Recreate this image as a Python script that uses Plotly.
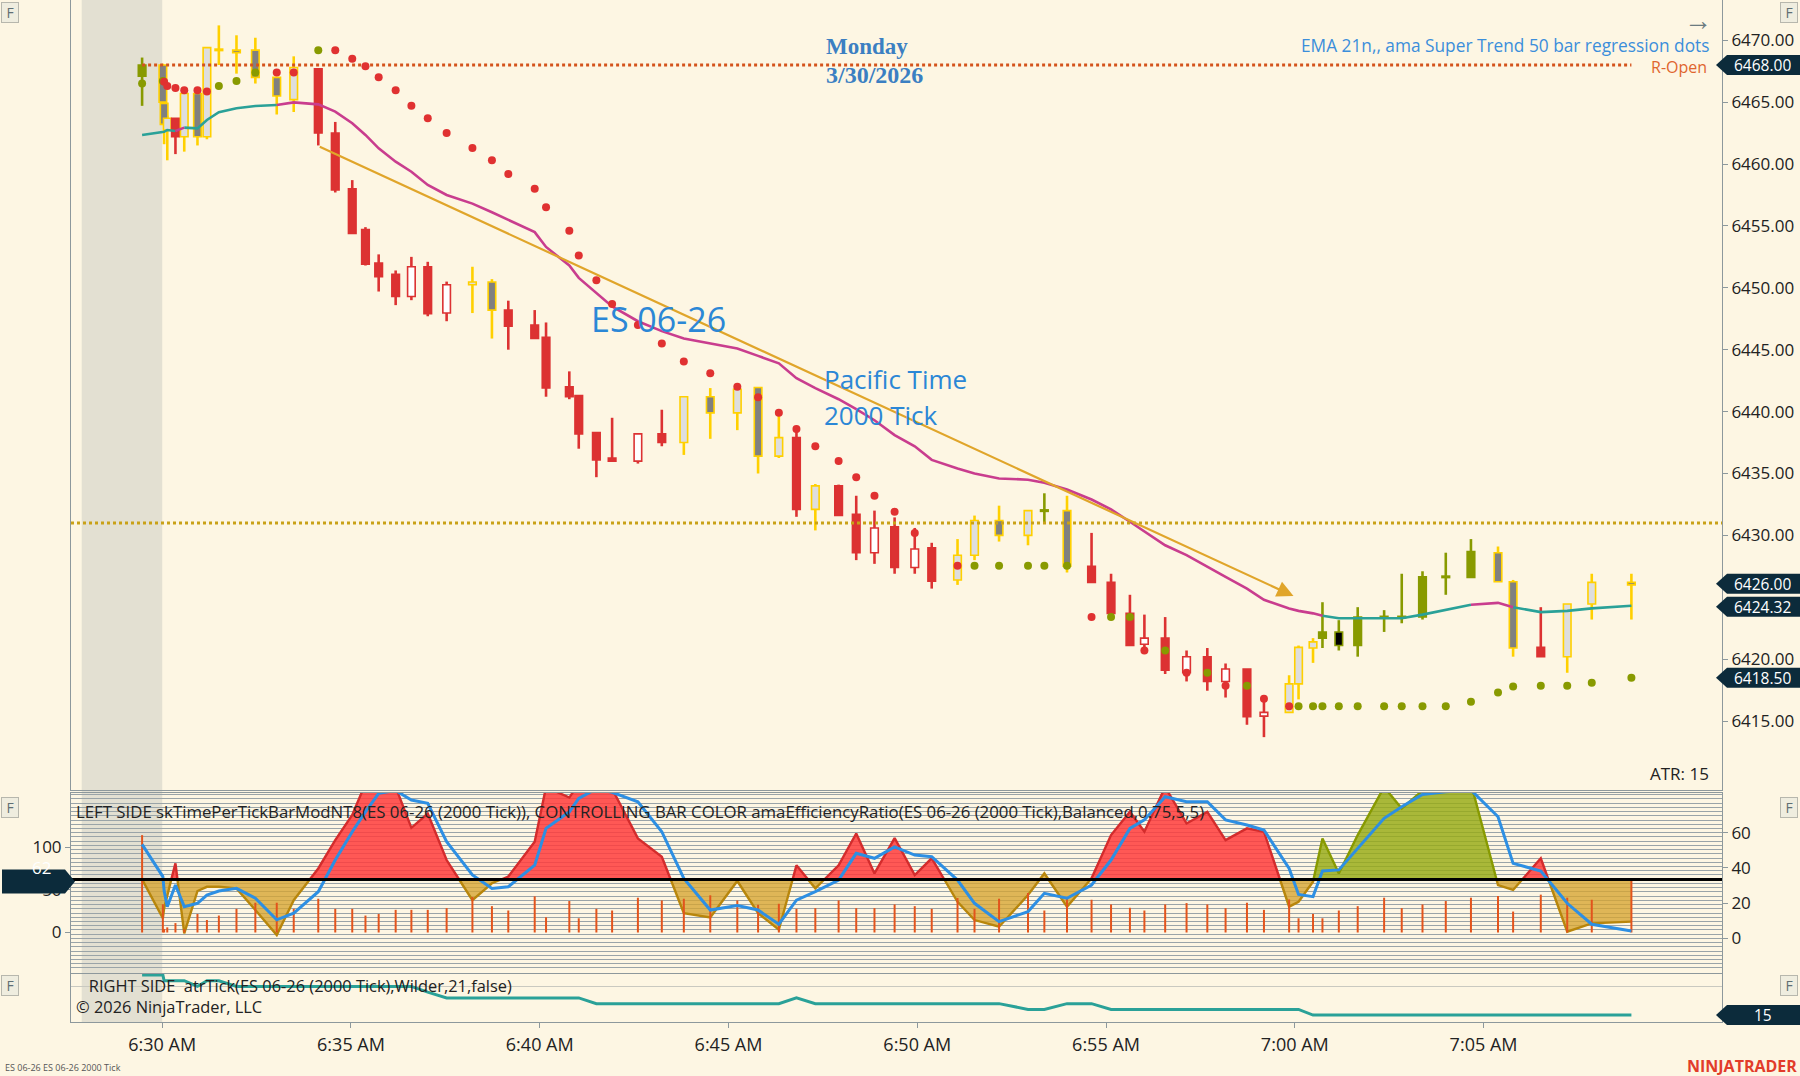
import plotly.graph_objects as go
import pandas as pd

W, H = 1800, 1076
DAY = "2026-03-30"

# ---------------- data ----------------
bar_times = ["06:29:28","06:30:01","06:30:03","06:30:08","06:30:21","06:30:35","06:30:56","06:31:11","06:31:30","06:31:58",
             "06:32:28","06:33:02","06:33:29","06:34:08","06:34:35","06:35:02","06:35:23","06:35:44","06:36:11","06:36:36",
             "06:37:02","06:37:32","06:38:13","06:38:44","06:39:10","06:39:52","06:40:10","06:40:47","06:41:02","06:41:30",
             "06:41:55","06:42:36","06:43:14","06:43:49","06:44:31","06:45:14","06:45:47","06:46:20","06:46:48","06:47:18",
             "06:47:55","06:48:23","06:48:52","06:49:24","06:49:56","06:50:23","06:51:04","06:51:31","06:52:10","06:52:56",
             "06:53:22","06:53:58","06:54:37","06:55:08","06:55:38","06:56:01","06:56:34","06:57:08","06:57:41","06:58:10",
             "06:58:44","06:59:11","06:59:51","07:00:06","07:00:29","07:00:44","07:01:10","07:01:40","07:02:22","07:02:50",
             "07:03:23","07:04:00","07:04:40","07:05:23","07:05:47","07:06:31","07:07:13","07:07:52","07:08:55"]

bar_open = [6467.1, 6468.0, 6464.9, 6462.75, 6463.7, 6462.2, 6465.7, 6462.2, 6469.2, 6469.2,
            6469.2, 6467.0, 6465.2, 6467.7, 6462.5, 6458.0, 6454.7, 6452.0, 6451.1, 6449.3,
            6451.7, 6447.96, 6450.25, 6450.47, 6448.2, 6447.0, 6446.0, 6442.0, 6441.3, 6438.3,
            6436.25, 6436.0, 6438.2, 6437.5, 6441.2, 6439.9, 6441.95, 6436.4, 6437.9, 6432.1,
            6434.0, 6431.7, 6428.6, 6430.7, 6427.4, 6429.0, 6426.4, 6428.4, 6431.2, 6430.0,
            6432.0, 6432.0, 6427.5, 6426.2, 6423.7, 6421.2, 6421.7, 6418.9, 6420.2, 6418.2,
            6419.2, 6415.4, 6415.7, 6418.0, 6420.9, 6421.7, 6422.2, 6421.1, 6423.4, 6423.4,
            6423.4, 6426.65, 6426.6, 6428.6, 6426.25, 6420.95, 6420.2, 6424.45, 6426.2]
bar_high = [6468.6, 6468.1, 6465.4, 6463.9, 6463.7, 6465.7, 6465.7, 6469.4, 6471.2, 6470.4,
            6470.2, 6467.0, 6468.7, 6467.7, 6463.4, 6458.7, 6454.9, 6452.7, 6451.4, 6452.5,
            6452.1, 6450.5, 6451.7, 6450.7, 6448.96, 6448.2, 6447.2, 6443.25, 6441.3, 6438.3,
            6439.5, 6438.2, 6440.15, 6441.2, 6441.9, 6441.8, 6441.95, 6439.9, 6438.4, 6434.15,
            6434.1, 6433.2, 6432.0, 6431.45, 6430.6, 6429.4, 6429.7, 6431.6, 6432.4, 6432.0,
            6433.4, 6433.2, 6430.2, 6426.9, 6425.2, 6423.6, 6423.4, 6420.7, 6420.9, 6419.65,
            6419.2, 6416.8, 6418.7, 6421.1, 6421.7, 6424.6, 6423.15, 6424.2, 6423.96, 6426.9,
            6427.1, 6428.6, 6429.7, 6429.1, 6426.4, 6424.2, 6424.45, 6426.9, 6426.9]
bar_low = [6464.7, 6464.9, 6461.6, 6460.3, 6460.8, 6461.0, 6461.5, 6462.0, 6468.0, 6467.3,
           6466.5, 6464.0, 6464.2, 6461.5, 6457.7, 6454.4, 6451.8, 6449.7, 6448.6, 6449.0,
           6447.7, 6447.3, 6447.96, 6445.9, 6445.0, 6445.9, 6441.2, 6441.0, 6437.0, 6434.7,
           6436.0, 6435.8, 6437.2, 6436.5, 6437.8, 6438.5, 6435.0, 6436.25, 6431.5, 6430.4,
           6431.6, 6428.0, 6427.7, 6426.9, 6426.9, 6425.7, 6426.0, 6428.0, 6429.5, 6429.2,
           6431.0, 6427.0, 6426.2, 6423.7, 6421.1, 6420.8, 6418.8, 6418.2, 6417.45, 6416.9,
           6414.7, 6413.7, 6415.7, 6416.75, 6419.7, 6420.9, 6420.7, 6420.2, 6422.2, 6422.9,
           6423.2, 6425.2, 6426.6, 6426.25, 6420.2, 6420.2, 6418.9, 6423.2, 6423.2]
bar_close = [6468.0, 6465.0, 6463.2, 6463.7, 6462.2, 6465.7, 6462.2, 6469.4, 6469.25, 6469.0,
             6467.0, 6465.5, 6467.8, 6462.5, 6457.9, 6454.4, 6451.9, 6450.9, 6449.3, 6451.7,
             6447.9, 6450.25, 6450.47, 6448.2, 6446.9, 6445.9, 6441.9, 6441.2, 6438.2, 6436.1,
             6436.0, 6438.2, 6437.5, 6441.2, 6439.9, 6441.8, 6436.4, 6437.9, 6432.1, 6434.0,
             6431.6, 6428.6, 6430.6, 6427.4, 6428.9, 6426.3, 6428.4, 6431.2, 6430.0, 6432.0,
             6432.0, 6427.5, 6426.2, 6423.7, 6421.1, 6421.7, 6419.1, 6420.2, 6418.2, 6419.2,
             6415.35, 6415.7, 6418.0, 6420.95, 6421.4, 6422.2, 6421.1, 6423.4, 6423.4, 6423.4,
             6426.65, 6426.65, 6428.7, 6426.25, 6420.9, 6420.2, 6424.45, 6426.2, 6426.0]
# bar colour state: r = red, y = gold/neutral, g = olive/green
bar_state = list("gyyyryyyyyyyy" "rrrrrrrrr" "yy" "rrrrrrrrr" "yyyyy" "r" "y" "rrrrrr"
                 "yyyy" "g" "y" "rrrrrrrrrr" "yyy" "gggggggg" "yy" "r" "yyy")

# super trend dots
st_dots = [6466.5, 6466.7, 6466.65, 6466.3, 6466.15, 6465.95, 6465.95, 6465.85, 6466.3, 6466.7,
           6467.4, 6467.4, 6467.4, 6469.2, 6469.2, 6468.5, 6467.9, 6467.0, 6465.95, 6464.7,
           6463.7, 6462.5, 6461.3, 6460.3, 6459.2, 6458.0, 6456.5, 6454.6, 6452.6, 6450.6,
           6448.7, 6447.0, 6445.5, 6444.05, 6443.1, 6442.0, 6441.15, 6439.9, 6438.6, 6437.2,
           6436.0, 6434.7, 6433.2, 6431.9, 6430.2, None, 6427.55, 6427.55, 6427.55, 6427.55,
           6427.55, 6427.55, 6423.4, 6423.4, 6423.4, 6420.7, 6420.7, 6418.9, 6418.9, 6417.85,
           6417.85, 6416.8, 6416.2, 6416.2, 6416.2, 6416.2, 6416.2, 6416.2, 6416.2, 6416.2,
           6416.2, 6416.2, 6416.55, 6417.3, 6417.8, 6417.85, 6417.85, 6418.1, 6418.5]
st_dot_state = list("gg" "rrrrrr" "ggg" "rr" "g" + "r" * 33 + "ggggg" "r" "gg" "r" "g" "r" "g" "r" "g" "r" "r" + "g" * 16)

# EMA 21
ema21 = [6462.35, 6462.56, 6462.6, 6462.75, 6462.67, 6462.94, 6462.88, 6463.56, 6464.18, 6464.5,
         6464.69, 6464.77, 6464.98, 6464.82, 6464.23, 6463.29, 6462.35, 6461.27, 6460.19, 6459.38,
         6458.31, 6457.5, 6456.8, 6456.1, 6455.5, 6454.5, 6453.3, 6451.8, 6450.8, 6449.6,
         6448.5, 6447.3, 6446.5, 6445.9, 6445.5, 6445.1, 6444.5, 6443.9, 6442.7, 6441.9,
         6441.0, 6440.2, 6439.3, 6438.1, 6437.2, 6436.1, 6435.4, 6435.0, 6434.6, 6434.5,
         6434.25, 6433.7, 6432.9, 6432.1, 6431.1, 6430.3, 6429.2, 6428.4, 6427.5, 6426.65,
         6425.7, 6424.8, 6424.1, 6423.9, 6423.7, 6423.5, 6423.3, 6423.3, 6423.3, 6423.3,
         6423.6, 6424.0, 6424.4, 6424.55, 6424.2, 6423.8, 6423.9, 6424.1, 6424.32]
ema_state = list("tttt" "m" "tttttt" + "m" * 54 + "ttttttt" "mm" "ttttt")

# lower panel: time per tick (left scale), efficiency ratio + smoothing (right scale)
tpt_left = [113.9, 33, 4, 6, 11, 4, 21.7, 14.6, 19.8, 27.7,
            34.8, 34.8, 27.7, 39.5, 27.7, 27.7, 19.8, 21.7, 26.5, 26.5,
            26.5, 28.5, 41.5, 30.8, 25.7, 42.3, 17.8, 36.8, 16.6, 27.7,
            25.7, 40.7, 37.5, 39.5, 43.5, 37.5, 32.4, 33.6, 27.7, 28.5,
            37.5, 28.5, 28.5, 32.8, 30.8, 27.7, 40.3, 27.7, 39.5, 46.2,
            25.7, 39.5, 38.3, 32.8, 28.9, 25.7, 32.8, 34.4, 32.8, 28.5,
            34.8, 26.5, 38.7, 16.6, 21.7, 16.6, 25.7, 30.8, 40.7, 28.5,
            32.8, 36.8, 40.7, 42.7, 24.5, 44.3, 40.7, 38.3, 63.3]
er_value = [33.5, 11.4, 17.0, 24.6, 42.6, 2.8, 26.9, 29.3, 29.3, 28.4,
            16.1, 1.9, 21.7, 39.7, 55.8, 70.1, 88, 90, 86, 62.8,
            70.9, 44.5, 21.7, 31.3, 35.1, 54.9, 86, 80, 88, 88,
            85, 56.8, 46.4, 14.3, 11.9, 32.6, 14.3, 4.9, 41.5, 28.4,
            41.5, 59.6, 36.9, 57, 36.0, 45.5, 20.8, 10.4, 6.6, 24.6,
            36.9, 18.0, 34.1, 58.7, 71.9, 60.6, 86, 65.3, 71.9, 55.8,
            62.5, 60.6, 18.0, 20.8, 32.2, 56.8, 36.9, 58.7, 86, 73.8,
            84, 84, 88, 30.3, 27.5, 45.5, 3.8, 8.5, 9.5]
er_state = list("yyyyryyyyyyyy" "rrrrrrrrr" "yy" "rrrrrrrrr" "yyyyy" "r" "y" "rrrrrr"
                "yyyyyyy" "rrrrrrrrr" "yyy" "gggggggg" "yy" "r" "yyy")
er_smooth = [53.4, 35.1, 27, 18.0, 30.3, 18.0, 19.9, 24.6, 26.9, 28.4,
             22.8, 10.5, 14.3, 26.5, 44.5, 60.6, 71.9, 82.4, 84, 78.6,
             76.7, 54.9, 36.0, 28.4, 29.3, 41.6, 62.5, 71.9, 79.5, 85,
             83, 77.6, 60.6, 34.1, 16.1, 18.6, 16.1, 8.0, 21.7, 26.5,
             33.1, 48.3, 45.5, 52, 47.3, 46.4, 33.1, 19.9, 9.5, 15.2,
             25.6, 22.8, 30.3, 44.5, 62.5, 67.3, 80.5, 77.6, 77.6, 67.3,
             64.4, 61.6, 39.7, 24.9, 23.7, 38.3, 38.9, 51.2, 68.2, 74.8,
             81.8, 83.3, 84.3, 69.1, 42.6, 38.3, 19.9, 8.0, 4.2]
er_level_left = 62

# ATR panel
atr_tick = [22, 22, 21, 21, 21, 21, 20, 21, 21, 20,
            20, 20, 20, 20, 20, 20, 20, 20, 20, 20,
            19, 18, 18, 18, 18, 18, 18, 18, 18, 17,
            17, 17, 17, 17, 17, 17, 17, 17, 18, 17,
            17, 17, 17, 17, 17, 17, 17, 17, 17, 16,
            16, 17, 17, 16, 16, 16, 16, 16, 16, 16,
            16, 16, 16, 16, 15, 15, 15, 15, 15, 15,
            15, 15, 15, 15, 15, 15, 15, 15, 15]

r_open_level = 6468.0
dotted_level = 6431.0
regression_start = ("06:34:08", 6461.45)
regression_end = ("06:59:58", 6425.1)
session_shade = ("06:27:52", "06:30:00")
x_window = ("06:27:35", "07:11:19")
tick_times = ["06:30", "06:35", "06:40", "06:45", "06:50", "06:55", "07:00", "07:05"]
tick_labels = ["6:30 AM", "6:35 AM", "6:40 AM", "6:45 AM", "6:50 AM", "6:55 AM", "7:00 AM", "7:05 AM"]
price_ticks = [6415, 6420, 6425, 6430, 6435, 6440, 6445, 6450, 6455, 6460, 6465, 6470]

n = len(bar_times)
for arr in (bar_open, bar_high, bar_low, bar_close, bar_state, st_dots, st_dot_state, ema21, ema_state,
            tpt_left, er_value, er_state, er_smooth, atr_tick):
    assert len(arr) == n, len(arr)

# ---------------- style / geometry ----------------
BG = "#fdf6e3"
AX = "#8d989c"
GRID = "#8f9ca1"
GRID2 = "#9aa4a8"
FONT = "Open Sans, Noto Sans, sans-serif"
SERIF = "Liberation Serif, DejaVu Serif, serif"
RED = "#dc3232"
GOLD = "#ffd000"
OLIVE = "#889a00"
BOXC = "#0c2b3b"

PX_L, PX_R = 71, 1722
PRICE_PX = (0, 790)
ER_PX = (793, 973)
ATR_PX = (974, 1022)
price_range = [6409.43, 6473.25]
er_right_range = [-19.7, 82.6]
er_left_range = [-47.4, 163.2]
atr_range = [13.8, 22.17]


def xp(px):
    return px / W


def yp(px):
    return 1 - px / H


def dom(pxr):
    return [yp(pxr[1]), yp(pxr[0])]


def px_of(v, rng, pxr):
    return pxr[1] - (v - rng[0]) / (rng[1] - rng[0]) * (pxr[1] - pxr[0])


def ts(s):
    return pd.Timestamp(f"{DAY} {s}")


xs = [ts(t).to_pydatetime() for t in bar_times]
x_range = [ts(x_window[0]), ts(x_window[1])]
ms_per_px = (x_range[1] - x_range[0]).total_seconds() * 1000 / (PX_R - PX_L)
xdom = [xp(PX_L), xp(PX_R)]

# baseline of the efficiency ratio fill, expressed on the right scale
er_base = er_right_range[0] + (er_level_left - er_left_range[0]) / (er_left_range[1] - er_left_range[0]) * (
    er_right_range[1] - er_right_range[0])

fig = go.Figure()

# ---------------- candles ----------------
wick_col = {"r": RED, "y": GOLD, "g": OLIVE}
fills, outlines, bbase, bh = [], [], [], []
for o, c, s in zip(bar_open, bar_close, bar_state):
    bull = c >= o
    if s == "r":
        fills.append("#ffffff" if bull else RED); outlines.append(RED)
    elif s == "y":
        fills.append("#dedede" if bull else "#808080"); outlines.append(GOLD)
    else:
        fills.append(OLIVE if bull else "#000000"); outlines.append(OLIVE)
    lo, hi = min(o, c), max(o, c)
    mn = 0.12
    if hi - lo < mn:
        mid = (hi + lo) / 2
        lo, hi = mid - mn / 2, mid + mn / 2
    bbase.append(lo); bh.append(hi - lo)

fig.add_trace(go.Bar(x=xs, y=[h - l for h, l in zip(bar_high, bar_low)], base=bar_low,
                     width=2.6 * ms_per_px, marker=dict(color=[wick_col[s] for s in bar_state], line=dict(width=0)),
                     xaxis="x", yaxis="y", hoverinfo="skip", showlegend=False))
fig.add_trace(go.Bar(x=xs, y=bh, base=bbase, width=7.6 * ms_per_px,
                     marker=dict(color=fills, line=dict(color=outlines, width=1.6)),
                     xaxis="x", yaxis="y", hoverinfo="skip", showlegend=False))

# R-Open dotted level
fig.add_trace(go.Scatter(x=[xs[0], xs[-1]], y=[r_open_level, r_open_level], mode="lines",
                         line=dict(color="#d4531c", width=3, dash="dot"), xaxis="x", yaxis="y",
                         hoverinfo="skip", showlegend=False))


def line_runs(xv, yv, states):
    runs = []
    for i in range(len(xv) - 1):
        k = states[i]
        if runs and runs[-1][0] == k:
            runs[-1][1].append((xv[i + 1], yv[i + 1]))
        else:
            runs.append([k, [(xv[i], yv[i]), (xv[i + 1], yv[i + 1])]])
    return runs


# EMA coloured line
ema_col = {"t": "#2aa198", "m": "#c93d8e"}
for key, col in ema_col.items():
    lx, ly = [], []
    for k, pts in line_runs(xs, ema21, ema_state):
        if k == key:
            lx += [p[0] for p in pts] + [None]
            ly += [p[1] for p in pts] + [None]
    fig.add_trace(go.Scatter(x=lx, y=ly, mode="lines", line=dict(color=col, width=2.6),
                             xaxis="x", yaxis="y", hoverinfo="skip", showlegend=False, connectgaps=False))

# super trend dots
dot_col = {"r": "#e03131", "g": "#889a00"}
fig.add_trace(go.Scatter(x=xs, y=st_dots, mode="markers",
                         marker=dict(size=8, color=[dot_col[s] for s in st_dot_state], line=dict(width=0)),
                         xaxis="x", yaxis="y", hoverinfo="skip", showlegend=False))


# ---------------- efficiency ratio panel ----------------
def area_runs(xv, vals, states, base):
    pieces = []
    for i in range(len(xv) - 1):
        x0, x1, v0, v1 = xv[i], xv[i + 1], vals[i], vals[i + 1]
        if (v0 - base) * (v1 - base) < 0:
            f = (base - v0) / (v1 - v0)
            xc = x0 + (x1 - x0) * f
            segs = [((x0, v0), (xc, base)), ((xc, base), (x1, v1))]
        else:
            segs = [((x0, v0), (x1, v1))]
        for pa, pb in segs:
            if (pa[1] + pb[1]) / 2 > base:
                key = states[i + 1] if vals[i + 1] > base else states[i]
                if key not in ("r", "g"):
                    key = "y"
            else:
                key = "y"
            if pieces and pieces[-1][0] == key:
                pieces[-1][1].append(pb)
            else:
                pieces.append([key, [pa, pb]])
    return pieces


er_fill = {"r": "rgba(255,60,60,0.85)", "g": "rgba(150,170,20,0.82)", "y": "rgba(214,164,48,0.78)"}
er_edge = {"r": "#d42c2c", "g": "#889a00", "y": "#b8860b"}
runs = area_runs(xs, er_value, er_state, er_base)
for key in ("y", "r", "g"):
    fx, fy = [], []
    for k, pts in runs:
        if k == key:
            fx += [p[0] for p in pts] + [pts[-1][0], pts[0][0], None]
            fy += [p[1] for p in pts] + [er_base, er_base, None]
    fig.add_trace(go.Scatter(x=fx, y=fy, mode="lines", fill="toself", fillcolor=er_fill[key],
                             line=dict(width=0, color="rgba(0,0,0,0)"), xaxis="x2", yaxis="y2",
                             hoverinfo="skip", showlegend=False))
for key in ("y", "r", "g"):
    lx, ly = [], []
    for k, pts in runs:
        if k == key:
            lx += [p[0] for p in pts] + [None]
            ly += [p[1] for p in pts] + [None]
    fig.add_trace(go.Scatter(x=lx, y=ly, mode="lines", line=dict(width=2.4, color=er_edge[key]),
                             xaxis="x2", yaxis="y2", hoverinfo="skip", showlegend=False))

# time-per-tick vertical lines (left scale)
vx, vy = [], []
for x, v in zip(xs, tpt_left):
    vx += [x, x, None]
    vy += [0, v, None]
fig.add_trace(go.Scatter(x=vx, y=vy, mode="lines", line=dict(color="#e2541c", width=2),
                         xaxis="x2", yaxis="y6", hoverinfo="skip", showlegend=False))

# smoothed line
fig.add_trace(go.Scatter(x=xs, y=er_smooth, mode="lines", line=dict(color="#2d8fe3", width=3),
                         xaxis="x2", yaxis="y7", hoverinfo="skip", showlegend=False))

# ---------------- ATR panel ----------------
fig.add_trace(go.Scatter(x=xs, y=atr_tick, mode="lines", line=dict(color="#2aa198", width=3),
                         xaxis="x3", yaxis="y3", hoverinfo="skip", showlegend=False))

# ---------------- shapes ----------------
shapes = [
    dict(type="rect", xref="x", yref="paper", x0=ts(session_shade[0]), x1=ts(session_shade[1]),
         y0=yp(ATR_PX[1]), y1=1, fillcolor="#e3e0d2", line=dict(width=0), layer="below"),
    dict(type="line", xref="x domain", yref="y", x0=0, x1=1, y0=dotted_level, y1=dotted_level,
         line=dict(color="#c9a117", width=3, dash="dot")),
    dict(type="line", xref="x2 domain", yref="y6", x0=0, x1=1, y0=er_level_left, y1=er_level_left,
         line=dict(color="#000000", width=3)),
]
annotations = []


def right_box_at(cy, text):
    tip, bx, ex, h = 1716, 1727, 1800, 10
    path = (f"M {xp(tip)},{yp(cy)} L {xp(bx)},{yp(cy - h)} L {xp(ex)},{yp(cy - h)} "
            f"L {xp(ex)},{yp(cy + h)} L {xp(bx)},{yp(cy + h)} Z")
    shapes.append(dict(type="path", xref="paper", yref="paper", path=path, fillcolor=BOXC,
                       line=dict(width=0), layer="above"))
    annotations.append(dict(xref="paper", yref="paper", x=xp((bx + ex) / 2 - 1), y=yp(cy), text=text,
                            showarrow=False, font=dict(family=FONT, size=15.5, color="#ffffff"),
                            height=16, borderpad=0, xanchor="center", yanchor="middle"))


# price flags, pushed apart just enough so their texts do not collide
flag_vals = [r_open_level, bar_close[-1], ema21[-1], st_dots[-1]]
flag_px = sorted([[px_of(v, price_range, PRICE_PX), v] for v in flag_vals])
MIN_GAP = 23
for i in range(1, len(flag_px)):
    gap = flag_px[i][0] - flag_px[i - 1][0]
    if gap < MIN_GAP:
        d = (MIN_GAP - gap) / 2
        flag_px[i - 1][0] -= d
        flag_px[i][0] += d
for cy_, v in flag_px:
    right_box_at(cy_, f"{v:.2f}")
right_box_at(px_of(atr_tick[-1], atr_range, ATR_PX), f"{atr_tick[-1]}")

# axis labels that sit underneath a flag are hidden by it in the reference: leave them out
shown_price_ticks = [t for t in price_ticks
                     if all(abs(px_of(t, price_range, PRICE_PX) - f[0]) > 16 for f in flag_px)]

# left "62" box
cy = px_of(er_level_left, er_left_range, ER_PX) + 2
path = (f"M {xp(2)},{yp(cy - 12)} L {xp(65)},{yp(cy - 12)} L {xp(75)},{yp(cy)} "
        f"L {xp(65)},{yp(cy + 12)} L {xp(2)},{yp(cy + 12)} Z")
shapes.append(dict(type="path", xref="paper", yref="paper", path=path, fillcolor=BOXC, line=dict(width=0)))
annotations.append(dict(xref="paper", yref="paper", x=xp(53), y=yp(cy), text=f"{er_level_left}",
                        xanchor="right", showarrow=False, font=dict(family=FONT, size=17, color="#ffffff")))

# regression arrow
annotations.append(dict(x=ts(regression_end[0]), y=regression_end[1], xref="x", yref="y",
                        ax=ts(regression_start[0]), ay=regression_start[1], axref="x", ayref="y",
                        showarrow=True, arrowhead=2, arrowsize=1.5, arrowwidth=2.2, arrowcolor="#e0a52a", text=""))


def txt(text, x, y, size, color, anchor="left", family=FONT, bold=False, align="left"):
    annotations.append(dict(xref="paper", yref="paper", x=xp(x), y=yp(y), text=(f"<b>{text}</b>" if bold else text),
                            showarrow=False, xanchor=anchor, yanchor="middle", align=align,
                            font=dict(family=family, size=size, color=color)))


txt("Monday", 824, 47, 23, "#3b7fc2", family=SERIF, bold=True)
txt("3/30/2026", 824, 75, 24, "#3b7fc2", family=SERIF, bold=True)
txt("EMA 21n,, ama Super Trend 50 bar regression dots", 1711, 46, 17.3, "#3b8edb", anchor="right")
txt("R-Open", 1709, 67, 16, "#e0652e", anchor="right")
txt("ES 06-26", 589, 319, 34, "#2b87d6")
txt("Pacific Time", 822, 379, 26, "#2b87d6")
txt("2000 Tick", 822, 415, 26, "#2b87d6")
txt(f"ATR: {atr_tick[-1]}", 1711, 773, 17, "#222222", anchor="right")
txt("\u2192", 1698, 19, 28, "#6b7b80", anchor="center")
txt("LEFT SIDE skTimePerTickBarModNT8(ES 06-26 (2000 Tick)), CONTROLLING BAR COLOR "
    "amaEfficiencyRatio(ES 06-26 (2000 Tick),Balanced,0.75,5,5)", 74, 811, 16.8, "#222222")
txt("\u00a0\u00a0\u00a0RIGHT SIDE  atrTick(ES 06-26 (2000 Tick),Wilder,21,false)<br>"
    "\u00a9 2026 NinjaTrader, LLC", 74, 996, 16.4, "#222222")
txt("NINJATRADER", 1799, 1066, 16, "#e23c2a", anchor="right", bold=True)
txt("ES 06-26 ES 06-26 2000 Tick", 3, 1067, 9, "#555555")

for fx_, fy_ in ((10, 12), (10, 807), (10, 985), (1789, 12), (1789, 807), (1789, 985)):
    annotations.append(dict(xref="paper", yref="paper", x=xp(fx_), y=yp(fy_), text="F", showarrow=False,
                            font=dict(family=FONT, size=14, color="#5f6e74"), bgcolor="#efeddf",
                            bordercolor="#b7b7ad", borderwidth=1, width=14, height=17,
                            xanchor="center", yanchor="middle"))

# ---------------- layout ----------------
axis_font = dict(family=FONT, size=17, color="#222222")
fig.update_layout(
    width=W, height=H, autosize=False, margin=dict(l=0, r=0, t=0, b=0),
    paper_bgcolor=BG, plot_bgcolor=BG, barmode="overlay", showlegend=False,
    font=dict(family=FONT, size=16, color="#222222"),
    shapes=shapes, annotations=annotations,
    xaxis=dict(domain=xdom, range=x_range, type="date", anchor="y", showticklabels=False, showgrid=False,
               zeroline=False, showline=True, linecolor=AX, linewidth=1, ticks=""),
    xaxis2=dict(domain=xdom, range=x_range, type="date", anchor="y2", matches="x", showticklabels=False,
                showgrid=False, zeroline=False, showline=True, mirror=True, linecolor=AX, ticks=""),
    xaxis3=dict(domain=xdom, range=x_range, type="date", anchor="y3", matches="x",
                tickvals=[ts(t) for t in tick_times], ticktext=tick_labels, ticks="outside", ticklen=5,
                tickcolor=AX, showgrid=False, zeroline=False, showline=True, mirror=True, linecolor=AX,
                tickfont=dict(family=FONT, size=18, color="#222222"), ticklabelstandoff=1),
    yaxis=dict(domain=dom(PRICE_PX), range=price_range, anchor="x", side="right", tickvals=shown_price_ticks,
               tickformat=".2f", ticks="outside", ticklen=5, tickcolor=AX, showgrid=False, zeroline=False,
               showline=True, mirror=True, linecolor=AX, tickfont=axis_font),
    yaxis5=dict(overlaying="y", range=price_range, anchor="x", side="left", tick0=0, dtick=4,
                showticklabels=False, ticks="", showgrid=True, gridcolor=GRID, gridwidth=1, zeroline=False,
                showline=False),
    yaxis2=dict(domain=dom(ER_PX), range=er_right_range, anchor="x2", side="right", tickvals=[0, 20, 40, 60],
                ticks="outside", ticklen=5, tickcolor=AX, showgrid=False, zeroline=False, showline=True,
                mirror=True, linecolor=AX, tickfont=axis_font),
    yaxis6=dict(overlaying="y2", range=er_left_range, anchor="x2", side="left", tickvals=[0, 50, 100],
                ticks="outside", ticklen=5, tickcolor=AX, showgrid=False, zeroline=False, showline=False,
                tickfont=axis_font),
    yaxis7=dict(overlaying="y2", range=er_right_range, anchor="x2", side="right", tick0=0, dtick=2.4,
                showticklabels=False, ticks="", showgrid=True, gridcolor=GRID2, gridwidth=1, zeroline=False,
                showline=False),
    yaxis3=dict(domain=dom(ATR_PX), range=atr_range, anchor="x3", side="right", tickvals=[20],
                showticklabels=False, ticks="", showgrid=True, gridcolor="#c9c9c0", zeroline=False,
                showline=True, mirror=True, linecolor=AX),
)

fig.write_html("out.html", config={"displayModeBar": False},
               post_script="document.body.style.margin='0px';document.body.style.overflow='hidden';")
